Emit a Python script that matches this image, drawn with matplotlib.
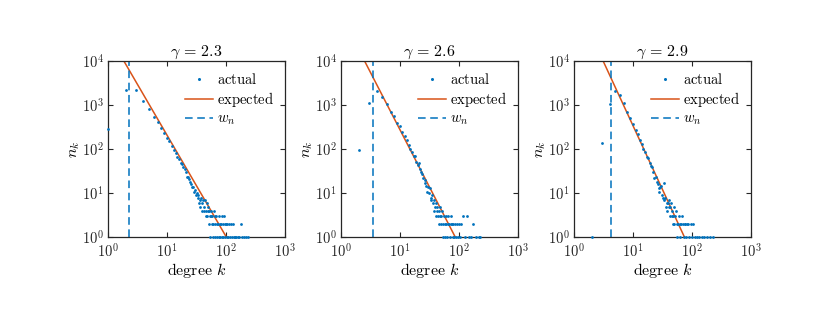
import numpy as np
import matplotlib
matplotlib.use("Agg")
import matplotlib.pyplot as plt
from matplotlib.ticker import FixedLocator, FuncFormatter

plt.rcParams['mathtext.fontset'] = 'cm'
plt.rcParams['font.family'] = ['Liberation Sans', 'DejaVu Sans']

c_blue = '#0072BD'
c_orange = '#D95319'

gammas = [2.3, 2.6, 2.9]
C_fit = [4.2e4, 1.1e5, 2.7e5]   # n_k = C k^-gamma
w_n = [2.3, 3.5, 4.3]

# degree distribution
k1 = [1, 2, 3, 4, 5, 6, 7, 8, 9, 10, 11, 12, 13, 14, 15, 16, 17, 18, 19, 20,
      21, 22, 23, 24, 25, 26, 27, 28, 29, 30, 31, 32, 33, 34, 35, 36, 37, 38, 39, 40,
      41, 42, 43, 44, 45, 46, 47, 48, 49, 50, 51, 52, 53, 54, 55, 56, 58, 59, 60, 61,
      62, 64, 65, 66, 68, 70, 71, 73, 75, 76, 78, 80, 82, 84, 85, 88, 90, 92, 95, 97,
      100, 103, 106, 110, 113, 117, 122, 126, 131, 137, 143, 150, 158, 167, 180, 190,
      205, 220, 235]
n1 = [290, 2240, 2240, 1260, 830, 540, 410, 300, 230, 178, 150, 118, 95, 82, 68, 60, 50, 46, 40, 36,
      30, 24, 24, 21, 18, 16, 14, 14, 11, 12, 9, 10, 8, 9, 6, 7, 5, 8, 4, 6,
      7, 4, 5, 7, 3, 4, 6, 3, 4, 5, 2, 4, 3, 1, 3, 4, 2, 3, 1, 2,
      4, 3, 2, 1, 3, 2, 1, 2, 1, 3, 2, 1, 2, 3, 1, 2, 1, 3, 2, 1,
      2, 1, 2, 1, 2, 1, 2, 1, 2, 1, 1, 1, 1, 1, 2, 1,
      1, 1, 1]

k2 = [2, 3, 4, 5, 6, 7, 8, 9, 10, 11, 12, 13, 14, 15, 16, 17, 18, 19, 20,
      21, 22, 23, 24, 25, 26, 27, 28, 29, 30, 31, 32, 33, 34, 35, 36, 37, 38, 39, 40,
      41, 42, 43, 44, 45, 46, 47, 48, 49, 50, 52, 53, 54, 55, 57, 58, 60, 61, 63, 65,
      66, 68, 70, 72, 74, 76, 78, 80, 83, 86, 90, 93, 96, 100, 105, 110, 117, 125,
      134, 145, 160, 175, 195, 215, 230]
n2 = [96, 1130, 2150, 1500, 1070, 700, 560, 400, 330, 240, 200, 165, 128, 100, 85, 70, 72, 52, 44,
      50, 35, 30, 28, 22, 20, 17, 15, 11, 14, 10, 13, 8, 7, 9, 6, 4, 7, 5, 3,
      6, 4, 5, 3, 2, 4, 3, 5, 2, 3, 4, 2, 1, 3, 2, 1, 2, 3, 1, 2,
      3, 2, 1, 2, 3, 2, 1, 2, 1, 2, 1, 2, 1, 2, 1, 2, 3, 1,
      3, 1, 1, 2, 1, 1, 1]

k3 = [2, 3, 4, 5, 6, 7, 8, 9, 10, 11, 12, 13, 14, 15, 16, 17, 18, 19, 20,
      21, 22, 23, 24, 25, 26, 27, 28, 29, 30, 31, 32, 33, 34, 35, 36, 37, 38, 39, 40,
      41, 42, 43, 44, 45, 46, 47, 48, 49, 50, 52, 53, 55, 56, 58, 60, 62, 63, 65, 67,
      70, 72, 75, 77, 80, 83, 86, 90, 95, 100, 105, 110, 120, 130, 145, 160, 180,
      200, 230]
n3 = [1, 138, 1070, 2150, 1700, 1120, 700, 500, 380, 270, 220, 160, 130, 100, 85, 68, 62, 48, 42,
      40, 30, 22, 24, 18, 16, 13, 11, 14, 15, 9, 8, 17, 7, 8, 5, 6, 4, 6, 5,
      7, 3, 5, 6, 3, 4, 2, 3, 5, 2, 3, 4, 2, 1, 2, 3, 2, 1, 2, 3,
      2, 1, 2, 2, 1, 2, 2, 1, 2, 1, 2, 1, 1, 1, 1, 1, 1,
      1, 1]

k_data = [k1, k2, k3]
n_data = [n1, n2, n3]

fig = plt.figure(figsize=(8.3, 3.1), dpi=100)
lefts = [0.130, 0.4108, 0.6916]

dec_fmt = FuncFormatter(lambda v, p: r'$\mathsf{10^{%d}}$' % round(np.log10(v)))

for i in range(3):
    ax = fig.add_axes([lefts[i], 0.234, 0.2134, 0.569])
    ax.plot(k_data[i], n_data[i], '.', color=c_blue, ms=4, mew=0, label=r'$\mathrm{actual}$', clip_on=False, zorder=3)
    kk = np.logspace(0, np.log10(C_fit[i]) / gammas[i], 200)
    ax.plot(kk, C_fit[i] * kk ** (-gammas[i]), '-', color=c_orange, lw=1.1, label=r'$\mathrm{expected}$')
    ax.axvline(w_n[i], color=c_blue, ls=(0, (5, 3)), lw=1.1, label=r'$w_n$')
    ax.set_xscale('log')
    ax.set_yscale('log')
    ax.set_xlim(1, 1000)
    ax.set_ylim(1, 1e4)
    ax.xaxis.set_major_locator(FixedLocator([1, 10, 100, 1000]))
    ax.yaxis.set_major_locator(FixedLocator([1, 10, 100, 1000, 10000]))
    ax.xaxis.set_minor_locator(FixedLocator([]))
    ax.yaxis.set_minor_locator(FixedLocator([]))
    ax.xaxis.set_major_formatter(dec_fmt)
    ax.yaxis.set_major_formatter(dec_fmt)
    ax.tick_params(which='both', direction='in', top=True, right=True, length=3.5,
                   width=0.8, labelsize=10.5, colors='#262626', pad=3)
    ax.tick_params(axis='x', pad=4)
    for s in ax.spines.values():
        s.set_linewidth(0.9)
        s.set_color('#262626')
    ax.set_title(r'$\gamma\,=\,%.1f$' % gammas[i], fontsize=11.5, pad=3)
    ax.set_xlabel(r'$\mathrm{degree}\ k$', fontsize=11.5, labelpad=0)
    ax.set_ylabel(r'$n_k$', fontsize=11.5, labelpad=0)
    ax.legend(loc='upper right', frameon=False, fontsize=10.5, handlelength=1.9,
              handletextpad=0.3, labelspacing=0.2, borderaxespad=0.35, markerscale=1.1)

fig.savefig('out.png', dpi=100)
